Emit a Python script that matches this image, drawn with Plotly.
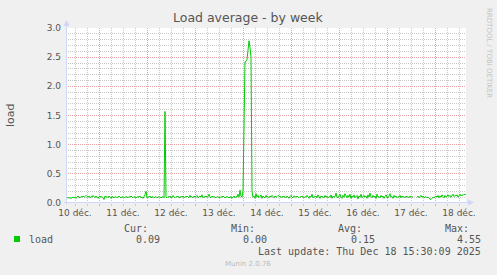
import pandas as pd
import plotly.graph_objects as go

# ---------------- data ----------------
start = "2025-12-10 07:30"
end = "2025-12-18 15:30"
load = [
    0.09, 0.09, 0.10, 0.09, 0.08, 0.09, 0.10, 0.09, 0.10, 0.08, 0.11, 0.12, 0.10, 0.09, 0.11, 0.10, 0.12, 0.10, 0.11, 0.13,
    0.11, 0.10, 0.12, 0.09, 0.11, 0.10, 0.13, 0.11, 0.09, 0.12, 0.10, 0.08, 0.11, 0.12, 0.10, 0.11, 0.09, 0.06, 0.12, 0.10,
    0.11, 0.09, 0.12, 0.10, 0.08, 0.11, 0.10, 0.09, 0.10, 0.11, 0.09, 0.10, 0.12, 0.10, 0.09, 0.10, 0.11, 0.09, 0.10, 0.11,
    0.10, 0.09, 0.11, 0.10, 0.12, 0.10, 0.09, 0.11, 0.10, 0.09, 0.10, 0.11, 0.10, 0.12, 0.09, 0.10, 0.08, 0.11, 0.14, 0.20,
    0.09, 0.11, 0.10, 0.12, 0.09, 0.10, 0.11, 0.09, 0.10, 0.11, 0.09, 0.10, 0.11, 0.10, 0.09, 0.10, 0.11, 0.09, 1.57, 0.10,
    0.09, 0.11, 0.10, 0.12, 0.09, 0.10, 0.13, 0.10, 0.09, 0.11, 0.10, 0.12, 0.09, 0.10, 0.11, 0.10, 0.12, 0.09, 0.11, 0.10,
    0.12, 0.10, 0.09, 0.13, 0.10, 0.11, 0.09, 0.12, 0.10, 0.11, 0.13, 0.09, 0.10, 0.12, 0.10, 0.14, 0.09, 0.11, 0.10, 0.12,
    0.10, 0.11, 0.15, 0.10, 0.09, 0.12, 0.10, 0.11, 0.10, 0.09, 0.11, 0.10, 0.10, 0.09, 0.11, 0.10, 0.12, 0.10, 0.09, 0.10,
    0.11, 0.10, 0.09, 0.10, 0.11, 0.08, 0.10, 0.12, 0.09, 0.11, 0.10, 0.15, 0.10, 0.22, 0.12, 0.10, 0.20, 1.20, 2.42, 2.43,
    2.46, 2.62, 2.78, 2.66, 2.50, 0.20, 0.10, 0.12, 0.08, 0.16, 0.10, 0.13, 0.09, 0.11, 0.14, 0.08, 0.12, 0.10, 0.09, 0.13,
    0.10, 0.11, 0.09, 0.12, 0.10, 0.13, 0.11, 0.09, 0.12, 0.10, 0.11, 0.13, 0.12, 0.10, 0.11, 0.09, 0.12, 0.10, 0.11, 0.09,
    0.12, 0.10, 0.08, 0.11, 0.13, 0.10, 0.09, 0.12, 0.11, 0.10, 0.12, 0.10, 0.09, 0.11, 0.10, 0.12, 0.10, 0.09, 0.11, 0.10,
    0.13, 0.10, 0.08, 0.12, 0.10, 0.15, 0.09, 0.11, 0.10, 0.12, 0.09, 0.14, 0.10, 0.08, 0.12, 0.10, 0.11, 0.09, 0.13, 0.10,
    0.12, 0.09, 0.11, 0.10, 0.14, 0.08, 0.12, 0.10, 0.11, 0.17, 0.10, 0.09, 0.12, 0.15, 0.10, 0.08, 0.13, 0.10, 0.16, 0.11,
    0.09, 0.13, 0.10, 0.15, 0.08, 0.12, 0.10, 0.14, 0.09, 0.11, 0.13, 0.07, 0.12, 0.10, 0.15, 0.09, 0.11, 0.13, 0.10, 0.12,
    0.08, 0.14, 0.10, 0.17, 0.11, 0.09, 0.13, 0.10, 0.12, 0.08, 0.15, 0.10, 0.11, 0.09, 0.13, 0.10, 0.12, 0.08, 0.11, 0.14,
    0.10, 0.09, 0.12, 0.16, 0.10, 0.11, 0.08, 0.13, 0.10, 0.12, 0.09, 0.11, 0.10, 0.13, 0.09, 0.12, 0.10, 0.11, 0.09, 0.12,
    0.10, 0.11, 0.09, 0.12, 0.10, 0.11, 0.10, None, None, None, 0.10, 0.12, 0.09, 0.11, 0.13, 0.10, 0.12, 0.09, 0.10, 0.11,
    0.09, 0.10, 0.08, 0.07, 0.06, 0.08, 0.10, 0.09, 0.11, 0.12, 0.10, 0.13, 0.09, 0.12, 0.10, 0.14, 0.11, 0.09, 0.13, 0.10,
    0.12, 0.14, 0.11, 0.13, 0.10, 0.12, 0.15, 0.11, 0.13, 0.12, 0.14, 0.10, 0.13, 0.15, 0.12, 0.14, 0.13, 0.15, 0.14, 0.16,
]
times = pd.date_range("2025-12-10 08:00", periods=len(load), freq="30min")

day_noons = pd.date_range("2025-12-10 12:00", periods=9, freq="1D")
day_labels = ["10 déc.", "11 déc.", "12 déc.", "13 déc.", "14 déc.",
              "15 déc.", "16 déc.", "17 déc.", "18 déc."]
y_ticks = [0.0, 0.5, 1.0, 1.5, 2.0, 2.5, 3.0]

series_name = "load"
stat_names = ["Cur:", "Min:", "Avg:", "Max:"]
stat_values = ["0.09", "0.00", "0.15", "4.55"]
last_update = "Last update: Thu Dec 18 15:30:09 2025"

# ---------------- layout constants ----------------
W, H = 497, 275
L, R, T, B = 66, 31, 28, 72
PW, PH = W - L - R, H - T - B

def px(x):
    return (x - L) / PW

def py(y):
    return (H - B - y) / PH

GREEN = "#00CC00"
AXIS = "#CFD6F8"
FONT = "#555555"
MINOR = "#C8C8C8"
MAJOR = "#E8A4A4"

fig = go.Figure()
fig.add_trace(go.Scatter(x=times, y=load, mode="lines",
                         line=dict(color=GREEN, width=1),
                         connectgaps=False, showlegend=False, hoverinfo="skip"))
fig.add_trace(go.Scatter(x=[start, end], y=[None, None], xaxis="x2",
                         mode="lines", showlegend=False, hoverinfo="skip"))

fig.update_layout(
    width=W, height=H,
    margin=dict(l=L, r=R, t=T, b=B, pad=0),
    paper_bgcolor="#F0F0F0", plot_bgcolor="#FFFFFF",
    font=dict(family="DejaVu Sans", color=FONT, size=9),
    showlegend=False,
    xaxis=dict(
        type="date", range=[start, end],
        tick0="2025-12-10 00:00", dtick=86400000,
        showgrid=True, gridcolor=MAJOR, griddash="1px,1px", gridwidth=1,
        showticklabels=False, ticks="outside", ticklen=2, tickcolor=MAJOR,
        showline=False, zeroline=False,
        minor=dict(tick0="2025-12-10 00:00", dtick=21600000, showgrid=True,
                   gridcolor=MINOR, griddash="1px,1px", gridwidth=1,
                   ticks="outside", ticklen=2, tickcolor=MINOR),
    ),
    xaxis2=dict(
        type="date", range=[start, end], overlaying="x", side="bottom",
        anchor="y", tickvals=list(day_noons), ticktext=day_labels,
        showgrid=False, zeroline=False, showline=False, ticks="",
        ticklabelstandoff=3,
        tickfont=dict(size=9, family="DejaVu Sans", color=FONT),
    ),
    yaxis=dict(
        range=[0, 3], tickvals=y_ticks, tickformat=".1f",
        showgrid=True, gridcolor=MAJOR, griddash="1px,1px", gridwidth=1,
        zeroline=False, showline=False, ticks="",
        ticklabelstandoff=4,
        tickfont=dict(size=9, family="DejaVu Sans", color=FONT),
        minor=dict(dtick=0.1, showgrid=True, gridcolor=MINOR,
                   griddash="1px,1px", gridwidth=1),
    ),
)

# axis lines with arrows (decoration)
shapes = [
    dict(type="line", xref="paper", yref="paper", x0=px(66.5), x1=px(66.5),
         y0=py(205), y1=py(24), line=dict(color=AXIS, width=1), layer="above"),
    dict(type="line", xref="paper", yref="paper", x0=px(64), x1=px(470),
         y0=py(202.5), y1=py(202.5), line=dict(color=AXIS, width=1), layer="above"),
    dict(type="path", xref="paper", yref="paper",
         path=f"M {px(63.5)} {py(26)} L {px(69.5)} {py(26)} L {px(66.5)} {py(20)} Z",
         fillcolor=AXIS, line=dict(color=AXIS, width=0), layer="above"),
    dict(type="path", xref="paper", yref="paper",
         path=f"M {px(468)} {py(199.5)} L {px(468)} {py(205.5)} L {px(474)} {py(202.5)} Z",
         fillcolor=AXIS, line=dict(color=AXIS, width=0), layer="above"),
    # legend swatch
    dict(type="rect", xref="paper", yref="paper", x0=px(14), x1=px(20),
         y0=py(242), y1=py(236), fillcolor=GREEN, line=dict(width=0)),
]
fig.update_layout(shapes=shapes)

mono = "DejaVu Sans Mono"
ann = [
    dict(text="Load average - by week", x=px(248), y=py(18), xanchor="center",
         yanchor="middle", font=dict(size=12.5, family="DejaVu Sans", color=FONT)),
    dict(text="load", x=px(10), y=py(115), xanchor="center", yanchor="middle",
         textangle=-90, font=dict(size=11, family="DejaVu Sans", color=FONT)),
    dict(text="RRDTOOL / TOBI OETIKER", x=px(489), y=py(53), xanchor="center",
         yanchor="middle", textangle=90,
         font=dict(size=7, family="DejaVu Sans", color="#C4C4C4")),
    dict(text=series_name, x=px(27), y=py(239), xanchor="left", yanchor="middle",
         font=dict(size=10, family=mono, color=FONT)),
    dict(text=last_update, x=px(483), y=py(251), xanchor="right", yanchor="middle",
         font=dict(size=10, family=mono, color=FONT)),
    dict(text="Munin 2.0.76", x=px(248), y=py(264), xanchor="center", yanchor="middle",
         font=dict(size=7, family="DejaVu Sans", color="#BBBBBB")),
]
name_right = [150, 257, 364, 471]
val_right = [162, 269, 377, 483]
for n, v, nr, vr in zip(stat_names, stat_values, name_right, val_right):
    ann.append(dict(text=n, x=px(nr), y=py(228), xanchor="right", yanchor="middle",
                    font=dict(size=10, family=mono, color=FONT)))
    ann.append(dict(text=v, x=px(vr), y=py(239), xanchor="right", yanchor="middle",
                    font=dict(size=10, family=mono, color=FONT)))
for a in ann:
    a.update(xref="paper", yref="paper", showarrow=False)
fig.update_layout(annotations=ann)

fig.write_html("out.html")
